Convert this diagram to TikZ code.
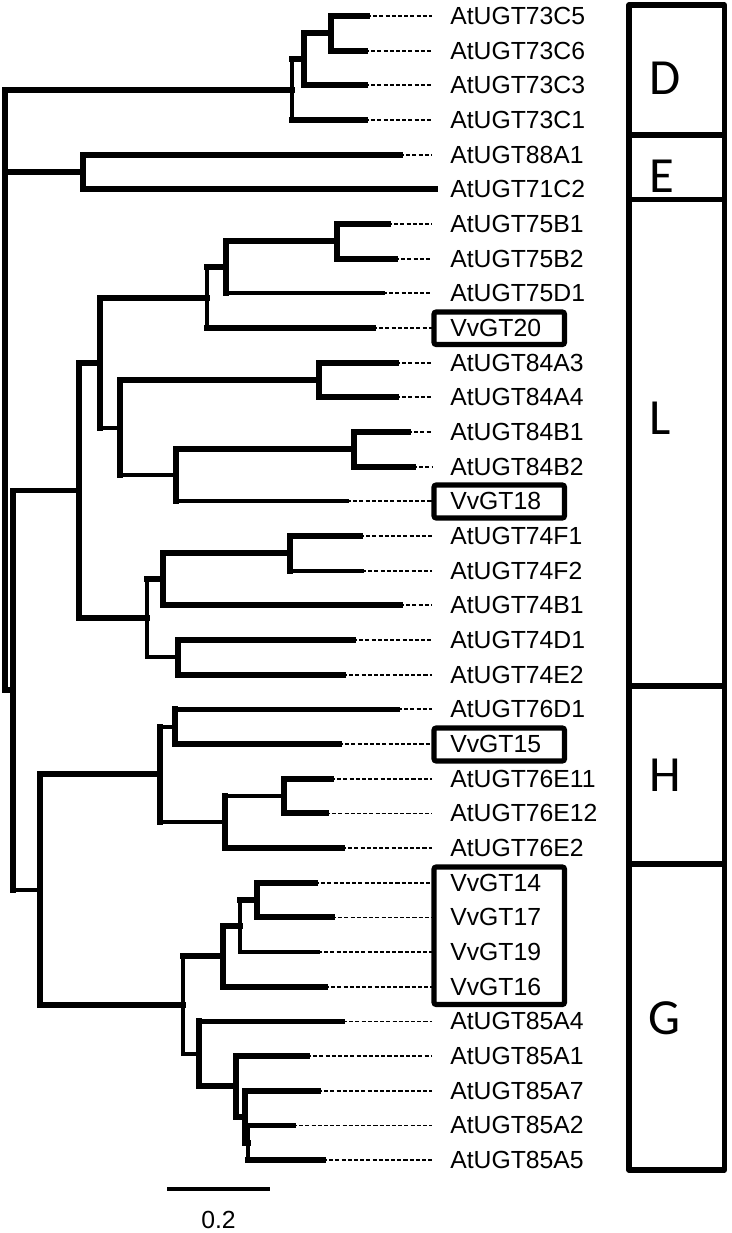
\documentclass[tikz,border=0pt]{standalone}
\usepackage{fontspec}
\setmainfont{Liberation Sans}
\newfontfamily\grpfont{Carlito}
\usepackage{tikz}
\usetikzlibrary{
    positioning,
    calc
}
\tikzset{
    brthick/.style={
        line width=4.2pt,
        line cap=rect
    },
    brthin/.style={
        line width=3pt,
        line cap=rect
    },
    dotline/.style={
        line width=1.3pt,
        dash pattern=on 2.9pt off 1.5pt
    },
    leaflab/.style={
        anchor=west,
        inner sep=0pt,
        font=\fontsize{17.6pt}{20pt}\selectfont
    },
    vvbox/.style={
        draw,
        line width=3.6pt,
        rounded corners=1.5pt
    },
    grpline/.style={
        line width=3.6pt,
        line join=round
    },
    grplab/.style={
        anchor=west,
        inner sep=0pt,
        font=\grpfont\fontsize{36pt}{40pt}\selectfont
    }
}

\begin{document}
\begin{tikzpicture}[
    x=0.025cm,
    y=-0.025cm
]
\useasboundingbox (0,0) rectangle (731,1233);

\foreach \nm/\ex [count=\i from 0] in {
    AtUGT73C5/367, AtUGT73C6/365, AtUGT73C3/365, AtUGT73C1/365,
    AtUGT88A1/400, AtUGT71C2/435,
    AtUGT75B1/388, AtUGT75B2/395, AtUGT75D1/383, VvGT20/373,
    AtUGT84A3/396, AtUGT84A4/396, AtUGT84B1/408, AtUGT84B2/413, VvGT18/347,
    AtUGT74F1/360, AtUGT74F2/362, AtUGT74B1/400, AtUGT74D1/353, AtUGT74E2/343,
    AtUGT76D1/398, VvGT15/339, AtUGT76E11/331, AtUGT76E12/326, AtUGT76E2/342,
    VvGT14/315, VvGT17/332, VvGT19/318, VvGT16/325,
    AtUGT85A4/343, AtUGT85A1/307, AtUGT85A7/318, AtUGT85A2/293, AtUGT85A5/323}
{
    \node[leaflab] (l\i) at (450,{16+34.67*\i}) {\nm};
    \coordinate (e\i) at (\ex,{16+34.67*\i});
    \coordinate (t\i) at (432,{16+34.67*\i});
}

\coordinate (root) at (5,390);
\coordinate (Da) at (292,89.7);
\coordinate (Db) at (304,59.3);
\coordinate (Dc) at (331,33.3);
\coordinate (Ea) at (83,172);
\coordinate (Na) at (13,690);
\coordinate (L0) at (79,490.5);
\coordinate (L1) at (100,362.7);
\coordinate (L1a) at (207,297.7);
\coordinate (L1b) at (226,267.3);
\coordinate (L1c) at (337,241.3);
\coordinate (L2) at (120,427.7);
\coordinate (L2a) at (319,380);
\coordinate (L2b) at (176,475.3);
\coordinate (L2c) at (354,449.3);
\coordinate (L3) at (147,618.3);
\coordinate (L3a) at (163,579.3);
\coordinate (L3b) at (178,657.3);
\coordinate (L3c) at (290,553.3);
\coordinate (HG) at (40,889.7);
\coordinate (H0) at (160,774.3);
\coordinate (H1) at (175,726.7);
\coordinate (H2) at (225,822);
\coordinate (H3) at (284,796);
\coordinate (G0) at (183,1005);
\coordinate (G1) at (223,956.3);
\coordinate (G2) at (199,1053.8);
\coordinate (G3) at (240,926);
\coordinate (G4) at (257,900);
\coordinate (G5) at (236,1086.3);
\coordinate (G6) at (245,1116.7);
\coordinate (G7) at (248,1142.7);

\foreach \i in {0,...,4,6,7,...,33}
    \draw[dotline] (e\i) -- (t\i);

\draw[brthick] (root |- Da) -- (root |- Na);
\draw[brthick] (root |- Da) -- (Da);
\draw[brthick] (root |- Ea) -- (Ea);
\draw[brthick] (root |- Na) -- (Na);

\draw[brthin] (Da |- Db) -- (Da |- e3);
\draw[brthick] (Da |- Db) -- (Db);
\draw[brthick] (Da |- e3) -- (e3);
\draw[brthick] (Db |- Dc) -- (Db |- e2);
\draw[brthick] (Db |- Dc) -- (Dc);
\draw[brthick] (Db |- e2) -- (e2);
\draw[brthick] (Dc |- e0) -- (Dc |- e1);
\draw[brthick] (Dc |- e0) -- (e0);
\draw[brthick] (Dc |- e1) -- (e1);

\draw[brthick] (Ea |- e4) -- (Ea |- e5);
\draw[brthick] (Ea |- e4) -- (e4);
\draw[brthick] (Ea |- e5) -- (e5);

\draw[brthick] (Na |- L0) -- (Na |- HG);
\draw[brthick] (Na |- L0) -- (L0);
\draw[brthin] (Na |- HG) -- (HG);

\draw[brthick] (L0 |- L1) -- (L0 |- L3);
\draw[brthick] (L0 |- L1) -- (L1);
\draw[brthick] (L0 |- L3) -- (L3);

\draw[brthick] (L1 |- L1a) -- (L1 |- L2);
\draw[brthick] (L1 |- L1a) -- (L1a);
\draw[brthin] (L1 |- L2) -- (L2);
\draw[brthin] (L1a |- L1b) -- (L1a |- e9);
\draw[brthick] (L1a |- L1b) -- (L1b);
\draw[brthick] (L1a |- e9) -- (e9);
\draw[brthick] (L1b |- L1c) -- (L1b |- e8);
\draw[brthick] (L1b |- L1c) -- (L1c);
\draw[brthin] (L1b |- e8) -- (e8);
\draw[brthick] (L1c |- e6) -- (L1c |- e7);
\draw[brthick] (L1c |- e6) -- (e6);
\draw[brthick] (L1c |- e7) -- (e7);

\draw[brthick] (L2 |- L2a) -- (L2 |- L2b);
\draw[brthick] (L2 |- L2a) -- (L2a);
\draw[brthin] (L2 |- L2b) -- (L2b);
\draw[brthick] (L2a |- e10) -- (L2a |- e11);
\draw[brthick] (L2a |- e10) -- (e10);
\draw[brthick] (L2a |- e11) -- (e11);
\draw[brthick] (L2b |- L2c) -- (L2b |- e14);
\draw[brthick] (L2b |- L2c) -- (L2c);
\draw[brthin] (L2b |- e14) -- (e14);
\draw[brthick] (L2c |- e12) -- (L2c |- e13);
\draw[brthick] (L2c |- e12) -- (e12);
\draw[brthick] (L2c |- e13) -- (e13);

\draw[brthin] (L3 |- L3a) -- (L3 |- L3b);
\draw[brthick] (L3 |- L3a) -- (L3a);
\draw[brthin] (L3 |- L3b) -- (L3b);
\draw[brthick] (L3a |- L3c) -- (L3a |- e17);
\draw[brthick] (L3a |- L3c) -- (L3c);
\draw[brthick] (L3a |- e17) -- (e17);
\draw[brthick] (L3c |- e15) -- (L3c |- e16);
\draw[brthick] (L3c |- e15) -- (e15);
\draw[brthin] (L3c |- e16) -- (e16);
\draw[brthick] (L3b |- e18) -- (L3b |- e19);
\draw[brthick] (L3b |- e18) -- (e18);
\draw[brthick] (L3b |- e19) -- (e19);

\draw[brthick] (HG |- H0) -- (HG |- G0);
\draw[brthick] (HG |- H0) -- (H0);
\draw[brthick] (HG |- G0) -- (G0);

\draw[brthick] (H0 |- H1) -- (H0 |- H2);
\draw[brthin] (H0 |- H1) -- (H1);
\draw[brthin] (H0 |- H2) -- (H2);
\draw[brthick] (H1 |- e20) -- (H1 |- e21);
\draw[brthin] (H1 |- e20) -- (e20);
\draw[brthick] (H1 |- e21) -- (e21);
\draw[brthick] (H2 |- H3) -- (H2 |- e24);
\draw[brthin] (H2 |- H3) -- (H3);
\draw[brthick] (H2 |- e24) -- (e24);
\draw[brthick] (H3 |- e22) -- (H3 |- e23);
\draw[brthick] (H3 |- e22) -- (e22);
\draw[brthick] (H3 |- e23) -- (e23);

\draw[brthin] (G0 |- G1) -- (G0 |- G2);
\draw[brthick] (G0 |- G1) -- (G1);
\draw[brthin] (G0 |- G2) -- (G2);
\draw[brthick] (G1 |- G3) -- (G1 |- e28);
\draw[brthick] (G1 |- G3) -- (G3);
\draw[brthick] (G1 |- e28) -- (e28);
\draw[brthin] (G3 |- G4) -- (G3 |- e27);
\draw[brthick] (G3 |- G4) -- (G4);
\draw[brthin] (G3 |- e27) -- (e27);
\draw[brthick] (G4 |- e25) -- (G4 |- e26);
\draw[brthick] (G4 |- e25) -- (e25);
\draw[brthick] (G4 |- e26) -- (e26);
\draw[brthick] (G2 |- e29) -- (G2 |- G5);
\draw[brthin] (G2 |- e29) -- (e29);
\draw[brthick] (G2 |- G5) -- (G5);
\draw[brthick] (G5 |- e30) -- (G5 |- G6);
\draw[brthick] (G5 |- e30) -- (e30);
\draw[brthick] (G5 |- G6) -- (G6);
\draw[brthick] (G6 |- e31) -- (G6 |- G7);
\draw[brthick] (G6 |- e31) -- (e31);
\draw[brthick] (G6 |- G7) -- (G7);
\draw[brthin] (G7 |- e32) -- (G7 |- e33);
\draw[brthick] (G7 |- e32) -- (e32);
\draw[brthick] (G7 |- e33) -- (e33);

\draw[vvbox] (434,312) rectangle (564.5,344.5);
\draw[vvbox] (434,485) rectangle (564.5,518);
\draw[vvbox] (434,728) rectangle (564.5,761);
\draw[vvbox] (434,867) rectangle (564.5,1004.5);

\draw[grpline] (629,5) rectangle (724.5,1170);
\foreach \yy in {135,199.5,686,864}
    \draw[grpline] (629,\yy) -- (724.5,\yy);
\node[grplab] (gD) at (649,78) {D};
\node[grplab] (gE) at (649,176) {E};
\node[grplab] (gL) at (649,418) {L};
\node[grplab] (gH) at (649,775) {H};
\node[grplab] (gG) at (648,1018) {G};

\coordinate (sb0) at (167,1189);
\coordinate (sb1) at (270,1189);
\draw[line width=2.8pt] (sb0) -- (sb1);
\node[leaflab, anchor=center] (sbl) at (218.5,1220) {0.2};

\end{tikzpicture}
\end{document}
